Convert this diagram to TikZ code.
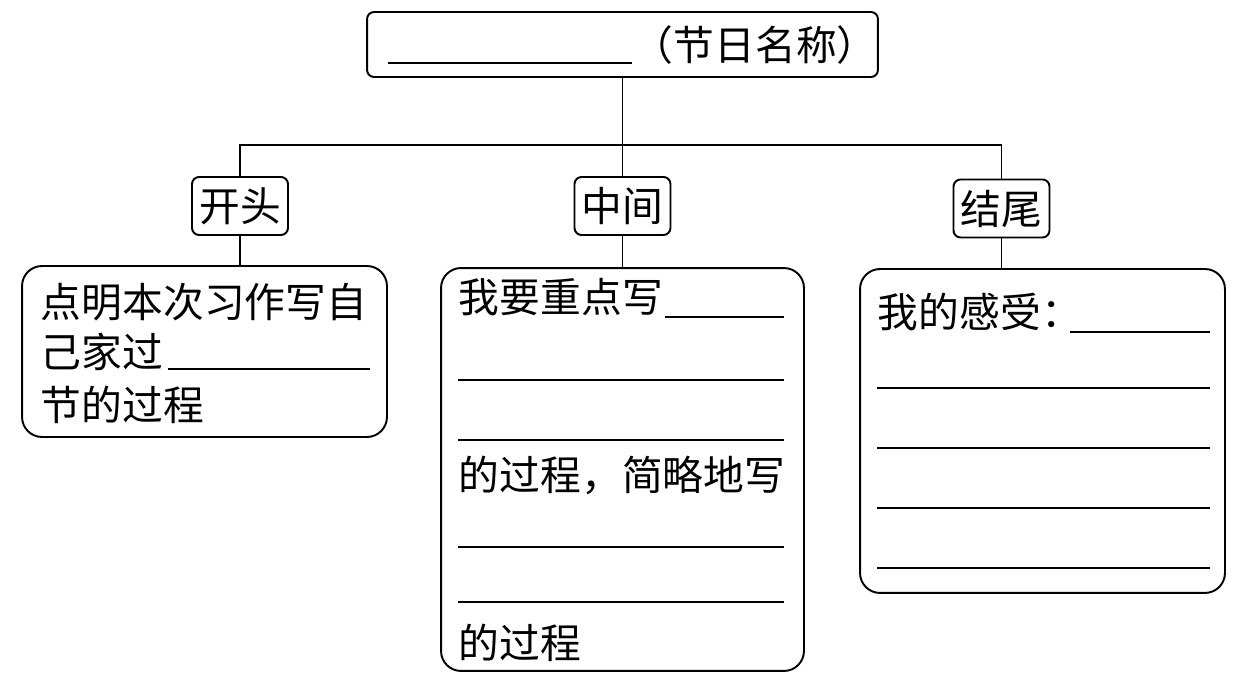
\documentclass[tikz,border=0pt]{standalone}
\usepackage{fontspec}
\newfontfamily\cjk{Noto Sans CJK SC}
\usepackage{tikz}
\usetikzlibrary{positioning}

\begin{document}
\begin{tikzpicture}[x=0.02cm, y=-0.02cm, line width=1.1pt,
    every node/.style={font=\cjk\fontsize{23.2}{28}\selectfont},
    titlebox/.style={draw, rounded corners=4pt, minimum width=10.22cm, minimum height=1.3cm, inner sep=0pt},
    tagbox/.style={draw, rounded corners=4pt, minimum width=1.92cm, minimum height=1.16cm, inner sep=0pt},
    bigbox/.style={draw, rounded corners=0.4cm, inner sep=0pt},
    line/.style={anchor=west, inner sep=0pt},
    blank/.style={line width=0.8pt}]
  \useasboundingbox (0,0) rectangle (1251,688);

  \node[titlebox] (top) at (622.5,44.5) {};
  \node[line] (topname) at (632,45) {（节日名称）};
  \draw[blank] (388,63) -- (632,63);

  \node[tagbox] (kaitou)    at (240,206)    {开头};
  \node[tagbox] (zhongjian) at (622.5,206)  {中间};
  \node[tagbox] (jiewei)    at (1001.5,208.5) {结尾};

  \node[bigbox, minimum width=7.3cm,  minimum height=3.42cm] (left)  at (204.5,351.5) {};
  \node[bigbox, minimum width=7.26cm, minimum height=8.06cm] (mid)   at (622.5,469.5) {};
  \node[bigbox, minimum width=7.3cm,  minimum height=6.48cm] (right) at (1042.5,431)  {};

  \coordinate (bar) at (623,145);
  \draw (top.south) -- (zhongjian.north);
  \draw (kaitou.north) |- (bar) -| (jiewei.north);
  \draw (kaitou.south) -- (kaitou.south |- left.north);
  \draw (zhongjian.south) -- (zhongjian.south |- mid.north);
  \draw (jiewei.south) -- (jiewei.south |- right.north);

  % left box
  \node[line] (l1) at (40,302) {点明本次习作写自};
  \node[line] (l2) at (40,352) {己家过};
  \node[line] (l3) at (40,405) {节的过程};
  \draw[blank] (168,369) -- (370,369);

  % middle box
  \node[line] (m1) at (458,297) {我要重点写};
  \node[line] (m2) at (458,475) {的过程，简略地写};
  \node[line] (m3) at (458,643) {的过程};
  \draw[blank] (665,317) -- (784,317);
  \foreach \y in {380,440,547,602}
    \draw[blank] (458,\y) -- (784,\y);

  % right box
  \node[line] (r1) at (877,312) {我的感受：};
  \draw[blank] (1070,332) -- (1210,332);
  \foreach \y in {388,448,508,568}
    \draw[blank] (877,\y) -- (1210,\y);
\end{tikzpicture}
\end{document}
